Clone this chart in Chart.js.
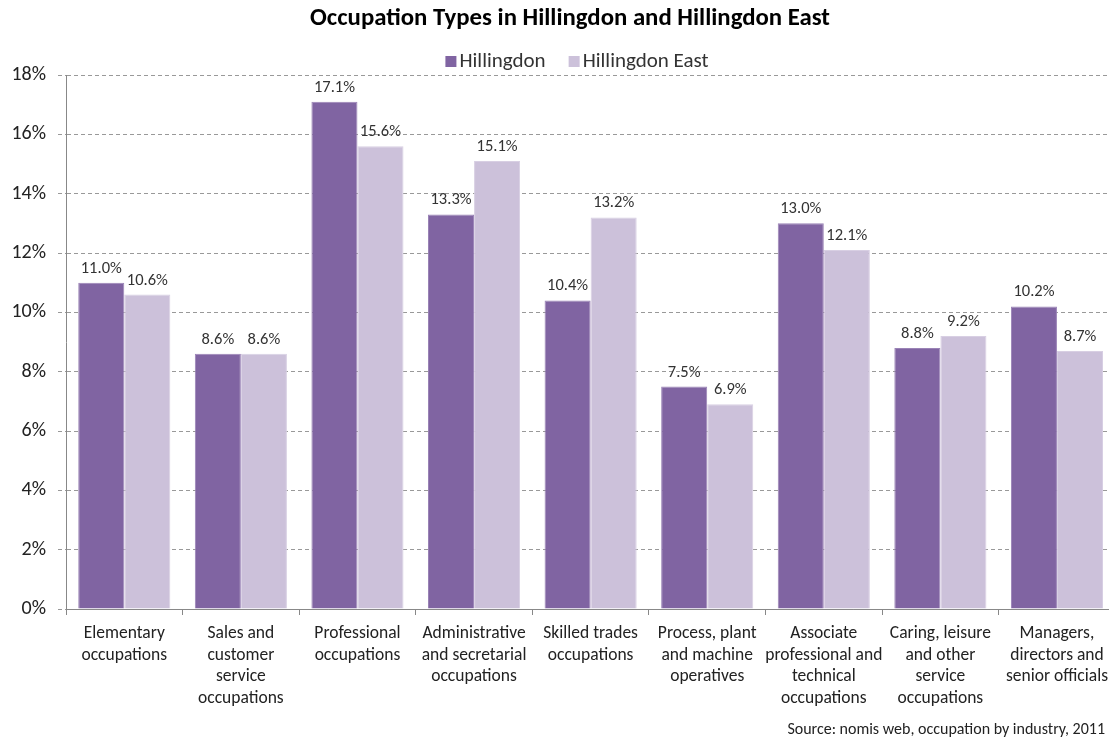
<!DOCTYPE html>
<html lang="en">
<head>
    <meta charset="UTF-8">
    <title>Occupation Types in Hillingdon and Hillingdon East</title>
    <script src="https://cdn.jsdelivr.net/npm/chart.js"></script>
    <style>
      html, body { margin: 0; padding: 0; overflow: hidden; background: #fff; }
      #wrap { width: 1116px; height: 740px; }
    </style>
</head>
<body>
    <div id="wrap"><canvas id="occChart"></canvas></div>
    <script>
        const categories = [
            ['Elementary', 'occupations'],
            ['Sales and', 'customer', 'service', 'occupations'],
            ['Professional', 'occupations'],
            ['Administrative', 'and secretarial', 'occupations'],
            ['Skilled trades', 'occupations'],
            ['Process, plant', 'and machine', 'operatives'],
            ['Associate', 'professional and', 'technical', 'occupations'],
            ['Caring, leisure', 'and other', 'service', 'occupations'],
            ['Managers,', 'directors and', 'senior officials']
        ];
        const hillingdon = [11.0, 8.6, 17.1, 13.3, 10.4, 7.5, 13.0, 8.8, 10.2];
        const hillingdonEast = [10.6, 8.6, 15.6, 15.1, 13.2, 6.9, 12.1, 9.2, 8.7];
        const yTicks = [0, 2, 4, 6, 8, 10, 12, 14, 16, 18];

        const titleText = 'Occupation Types in Hillingdon and Hillingdon East';
        const sourceText = 'Source: nomis web, occupation by industry, 2011';

        const FONT = "Carlito, 'Liberation Sans', Arial, sans-serif";

        // value labels above each bar
        const valueLabels = {
            id: 'valueLabels',
            afterDatasetsDraw(chart) {
                const ctx = chart.ctx;
                ctx.save();
                ctx.font = '16.5px ' + FONT;
                ctx.fillStyle = '#333';
                ctx.textAlign = 'center';
                ctx.textBaseline = 'alphabetic';
                chart.data.datasets.forEach((ds, i) => {
                    chart.getDatasetMeta(i).data.forEach((bar, j) => {
                        ctx.fillText(ds.data[j].toFixed(1) + '%', bar.x, bar.y - 10);
                    });
                });
                ctx.restore();
            }
        };

        // title, legend and source line, Excel style
        const header = {
            id: 'header',
            afterDraw(chart) {
                const ctx = chart.ctx;
                ctx.save();
                ctx.fillStyle = '#000';
                ctx.textAlign = 'center';
                ctx.textBaseline = 'middle';
                ctx.font = 'bold 24.8px ' + FONT;
                ctx.fillText(titleText, 570, 19);

                ctx.font = '21px ' + FONT;
                const items = chart.data.datasets.map(ds => ({ label: ds.label, color: ds.backgroundColor, w: ctx.measureText(ds.label).width }));
                const total = items.reduce((s, it) => s + 14 + it.w, 0) + 23 * (items.length - 1);
                let x = 577 - total / 2;
                ctx.textAlign = 'left';
                items.forEach(it => {
                    ctx.fillStyle = it.color;
                    ctx.fillRect(x, 56, 11, 11);
                    ctx.fillStyle = '#333';
                    ctx.fillText(it.label, x + 14, 62);
                    x += 14 + it.w + 23;
                });

                ctx.font = '16px ' + FONT;
                ctx.fillStyle = '#222';
                ctx.textAlign = 'right';
                ctx.fillText(sourceText, 1105, 730);
                ctx.restore();
            }
        };

        let ctx = document.getElementById('occChart').getContext('2d');
        let chart = new Chart(ctx, {
            type: 'bar',
            data: {
                labels: categories,
                datasets: [
                    { label: 'Hillingdon', data: hillingdon, backgroundColor: '#8064A2', borderColor: '#9a83b6', borderWidth: 1 },
                    { label: 'Hillingdon East', data: hillingdonEast, backgroundColor: '#CCC1DA', borderColor: '#d8cfe3', borderWidth: 1 }
                ]
            },
            options: {
                responsive: true,
                maintainAspectRatio: false,
                animation: false,
                layout: { padding: { top: 75, bottom: 20, left: 0, right: 0 } },
                datasets: { bar: { categoryPercentage: 0.79, barPercentage: 1.0 } },
                plugins: {
                    title: { display: false },
                    legend: { display: false },
                    tooltip: { enabled: false }
                },
                scales: {
                    x: {
                        grid: { drawOnChartArea: false, drawTicks: true, tickLength: 6, color: '#888' },
                        border: { display: true, color: '#888' },
                        ticks: {
                            color: '#222',
                            font: { family: FONT, size: 17.5, lineHeight: 1.23 },
                            autoSkip: false,
                            maxRotation: 0,
                            padding: 8
                        },
                        afterFit(scale) { scale.height = 111; }
                    },
                    y: {
                        min: 0,
                        max: 18,
                        afterBuildTicks(scale) { scale.ticks = yTicks.map(v => ({ value: v })); },
                        grid: { color: '#999', tickLength: 8, tickBorderDash: [4, 3], tickColor: '#999' },
                        border: { display: true, color: '#888', dash: [4, 3] },
                        ticks: {
                            color: '#222',
                            font: { family: FONT, size: 20 },
                            padding: 12,
                            callback: v => v + '%'
                        },
                        afterFit(scale) { scale.width = 66; }
                    }
                }
            },
            plugins: [valueLabels, header]
        });
    </script>
</body>
</html>
